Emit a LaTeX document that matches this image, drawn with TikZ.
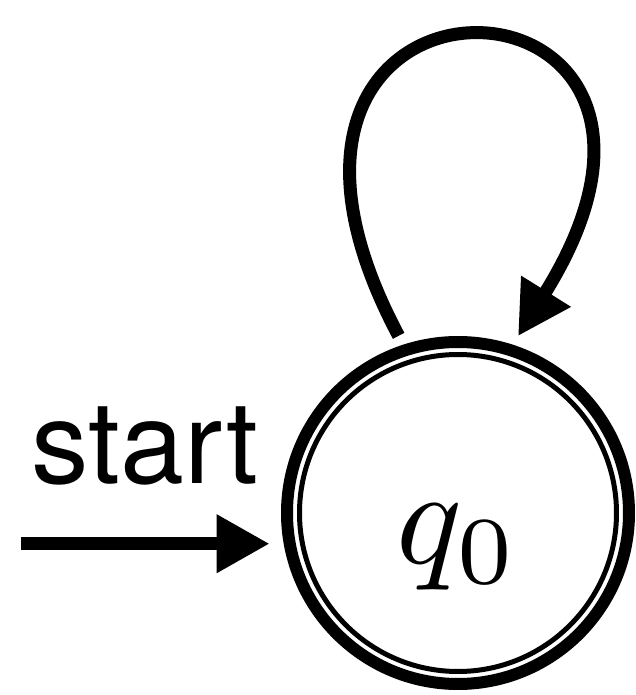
\documentclass[tikz,border=0pt]{standalone}
\usepackage{fontspec}
\newfontfamily\labelfont{TeX Gyre Heros}
\usetikzlibrary{positioning, arrows.meta}
\tikzset{
  state/.style={circle, draw, line width=0.12cm, minimum size=3.42cm, inner sep=0pt,
                text height=1.15cm, text depth=0.15cm},
  ring/.style={circle, draw, line width=0.05cm, minimum size=3.17cm, inner sep=0pt},
  tr/.style={-{Triangle[length=0.53cm, width=0.55cm]}, line width=0.13cm},
  lbl/.style={font=\labelfont\fontsize{32.7}{38}\selectfont}
}
\newcommand{\bigmath}[1]{\scalebox{3.9}{$#1$}}

\begin{document}
\begin{tikzpicture}
  \useasboundingbox (0,0) rectangle (6.36,6.95);
  \node[state] (q0) at (4.58,1.82) {\bigmath{q_0}};
  \node[ring] (q0in) at (q0.center) {};
  \coordinate[left=2.63cm of q0.190] (st);
  \node[lbl, anchor=base] (lab) at (1.45,2.12) {start};
  \draw[tr, shorten >=0.14cm] (st) -- (q0.190);
  \draw[tr, shorten <=0.1cm, shorten >=0.1cm] (q0.108) to[out=118, in=58, looseness=11] (q0.72);
\end{tikzpicture}
\end{document}
